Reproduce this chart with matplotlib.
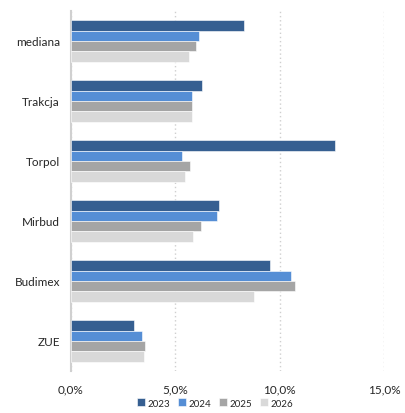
import numpy as np
import matplotlib
matplotlib.use("Agg")
import matplotlib.pyplot as plt
from matplotlib.ticker import FuncFormatter

plt.rcParams['font.family'] = ['Lato', 'DejaVu Sans']

# data (share in %)
companies = ['mediana', 'Trakcja', 'Torpol', 'Mirbud', 'Budimex', 'ZUE']
years = ['2023', '2024', '2025', '2026']
v2023 = [8.3, 6.3, 12.65, 7.1, 9.55, 3.02]
v2024 = [6.15, 5.8, 5.32, 7.0, 10.56, 3.42]
v2025 = [5.97, 5.8, 5.72, 6.24, 10.74, 3.55]
v2026 = [5.67, 5.8, 5.48, 5.86, 8.78, 3.51]
series = [v2023, v2024, v2025, v2026]
colors = ['#365F91', '#558ED5', '#A5A5A5', '#D9D9D9']

fig = plt.figure(figsize=(4.06, 4.14), dpi=100)
ax = fig.add_axes([71/406, 1 - 372/414, (384 - 71)/406, 360/414])

n = len(companies)
pos = np.arange(n)[::-1]  # mediana at top
bh = 0.69 / 4
for i, (vals, c) in enumerate(zip(series, colors)):
    y = pos + 0.345 - bh * (i + 0.5)
    ax.barh(y, vals, height=bh, color=c, edgecolor='white', linewidth=0.4, label=years[i], zorder=3)

ax.set_xlim(0, 15)
ax.set_ylim(-0.5, n - 0.5)
ax.set_xticks([0, 5, 10, 15])
ax.xaxis.set_major_formatter(FuncFormatter(lambda x, p: ('%.1f%%' % x).replace('.', ',')))
ax.set_yticks(pos)
ax.set_yticklabels(companies)
ax.tick_params(axis='both', length=0, labelsize=8.5, colors='#262626')
ax.tick_params(axis='x', pad=9)
ax.tick_params(axis='y', pad=8)

ax.grid(axis='x', linestyle=(0, (1, 2)), color='#CFCFCF', linewidth=1.0, zorder=0)
for s in ['top', 'right', 'bottom']:
    ax.spines[s].set_visible(False)
ax.spines['left'].set_color('#D0D0D0')
ax.spines['left'].set_linewidth(1.5)

fig.legend(loc='lower center', bbox_to_anchor=(0.53, -0.008), ncol=4, frameon=False,
           fontsize=7, handlelength=0.8, handleheight=0.8, handletextpad=0.3,
           columnspacing=0.8, labelcolor='#262626')

fig.savefig('out.png', dpi=100)
